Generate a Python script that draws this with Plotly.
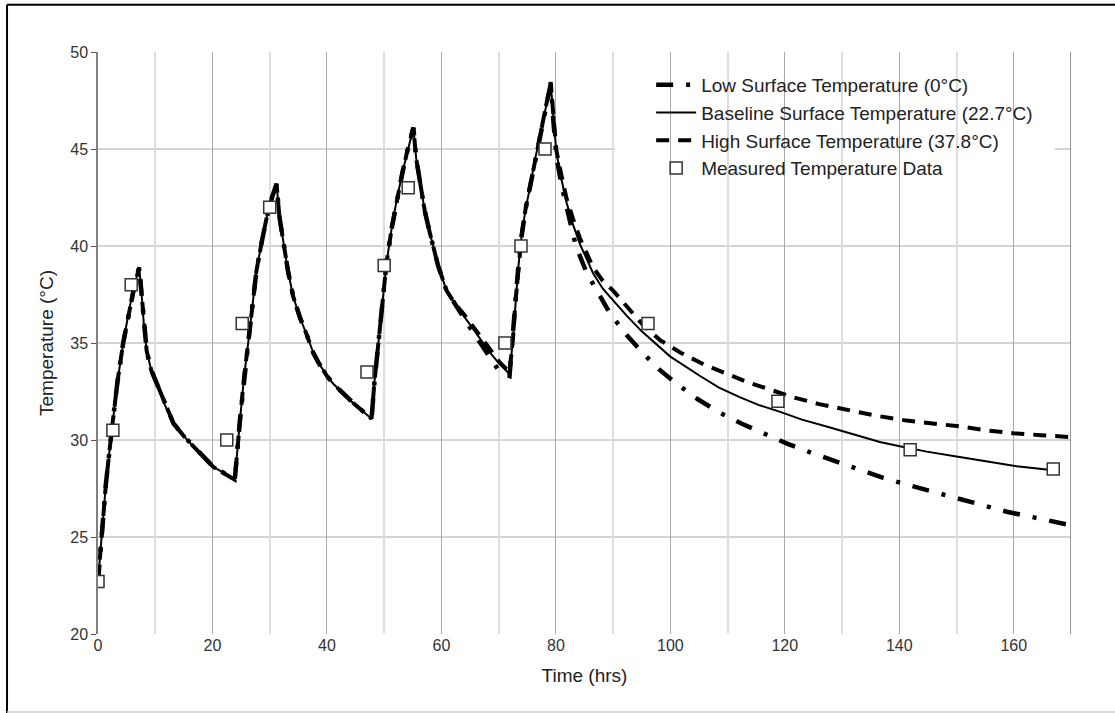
import plotly.graph_objects as go

# ---- model output: the three runs coincide for the first heating cycles ----
t_shared = [0, 0.6, 1.4, 2.4, 3.4, 4.4, 5.5, 6.4, 7.2, 7.6, 8.0, 8.5, 9.3, 10.3,
            11.7, 13.2, 15.0, 16.7, 18.5, 20.2, 22.0, 23.9, 24.8, 25.5, 26.3,
            27.0, 27.7, 28.6, 29.5, 30.4, 31.2, 31.7, 32.4, 33.2, 34.1, 35.3,
            36.5, 37.6, 38.5, 40.0, 41.1, 42.8, 44.6, 46.2, 47.8, 48.3, 49.0,
            49.7, 50.4, 51.3, 52.2, 53.2, 54.2, 55.1, 55.6, 56.3, 57.1, 58.0,
            59.4, 60.9, 62.4]
temp_shared = [22.7, 25.0, 27.8, 30.5, 33.0, 35.0, 36.8, 38.0, 38.9, 37.6, 36.0,
               34.6, 33.6, 32.9, 31.8, 30.85, 30.2, 29.65, 29.1, 28.6, 28.3,
               27.95, 31.0, 33.2, 35.15, 37.0, 38.75, 40.2, 41.5, 42.5, 43.2,
               41.5, 40.1, 38.7, 37.4, 36.3, 35.4, 34.5, 34.0, 33.3, 32.9, 32.4,
               31.9, 31.5, 31.1, 33.0, 35.0, 37.2, 39.1, 40.9, 42.4, 43.8, 45.1,
               46.1, 44.5, 43.2, 41.8, 40.65, 39.0, 37.7, 37.0]

# cycle-four heating, common to all runs
t_rise4 = [63.9, 65.4, 66.8, 68.5, 70.2, 71.9, 72.5, 72.9, 73.4, 74.0, 74.7,
           75.5, 76.3, 77.2, 78.2, 79.1]
temp_rise4_low = [36.2, 35.6, 35.0, 34.2, 33.5, 33.3, 35.2, 37.0, 38.8, 40.5,
                  41.9, 43.05, 44.4, 45.6, 47.1, 48.35]
temp_rise4_base = [36.4, 35.8, 35.2, 34.5, 33.9, 33.4, 35.2, 37.0, 38.8, 40.5,
                   41.9, 43.05, 44.4, 45.6, 47.1, 48.4]
temp_rise4_high = [36.5, 35.9, 35.3, 34.6, 34.0, 33.5, 35.2, 37.0, 38.8, 40.5,
                   41.9, 43.05, 44.4, 45.6, 47.1, 48.45]

# final cool-down, where the surface temperature assumption matters
t_low_tail = [79.6, 80.1, 81.0, 81.9, 83.5, 85.4, 87.5, 89.5, 92.4, 95.3, 98.2,
              101.1, 104.8, 108.7, 112.4, 116.2, 120.5, 125.0, 129.0, 133.1,
              137.2, 141.3, 145.6, 150.0, 154.4, 158.8, 163.7, 168.7, 170.0]
temp_low_tail = [46.3, 44.6, 43.1, 41.9, 40.0, 38.6, 37.5, 36.5, 35.4, 34.45,
                 33.6, 32.9, 32.1, 31.4, 30.85, 30.35, 29.8, 29.3, 28.9, 28.45,
                 28.05, 27.7, 27.35, 27.0, 26.65, 26.3, 26.0, 25.7, 25.6]

t_base_tail = [79.6, 80.1, 81.0, 81.9, 83.0, 84.2, 86.5, 88.2, 90.0, 92.4, 95.0,
               97.0, 100.0, 105.2, 108.5, 112.2, 115.5, 119.2, 123.0, 127.3,
               132.0, 136.6, 140.5, 144.8, 150.0, 155.3, 160.5, 166.5]
temp_base_tail = [46.5, 44.8, 43.4, 42.2, 41.1, 40.1, 38.6, 37.8, 37.2, 36.4,
                  35.6, 35.1, 34.3, 33.3, 32.7, 32.2, 31.8, 31.45, 31.05, 30.7,
                  30.3, 29.9, 29.65, 29.4, 29.15, 28.9, 28.65, 28.45]

t_high_tail = [79.6, 80.1, 81.0, 81.9, 83.0, 84.2, 86.5, 88.2, 90.0, 92.4, 95.0,
               98.2, 101.8, 105.8, 109.5, 113.3, 117.4, 121.5, 126.0, 130.8,
               136.0, 141.3, 146.0, 150.6, 155.2, 159.9, 164.7, 170.0]
temp_high_tail = [46.6, 44.9, 43.6, 42.4, 41.4, 40.4, 38.9, 38.2, 37.7, 36.9,
                  36.0, 35.15, 34.5, 33.9, 33.45, 33.0, 32.6, 32.2, 31.85,
                  31.55, 31.25, 31.0, 30.85, 30.7, 30.5, 30.35, 30.25, 30.15]

# ---- measurements ----
t_measured = [0, 2.6, 5.8, 22.5, 25.2, 30.0, 47.0, 50.0, 54.2, 71.1, 73.9, 78.1,
              96.1, 118.8, 141.9, 166.9]
temp_measured = [22.7, 30.5, 38.0, 30.0, 36.0, 42.0, 33.5, 39.0, 43.0, 35.0,
                 40.0, 45.0, 36.0, 32.0, 29.5, 28.5]

y_grid = [25, 30, 35, 40, 45]

FONT = "Liberation Sans, Arial, sans-serif"

fig = go.Figure()

fig.add_trace(go.Scatter(
    x=t_shared + t_rise4 + t_low_tail,
    y=temp_shared + temp_rise4_low + temp_low_tail,
    mode="lines", name="Low Surface Temperature (0°C)", legendgroup="low",
    line=dict(color="#000000", width=4.5, dash="17px,13px,4px,13px"),
))
fig.add_trace(go.Scatter(
    x=t_shared + t_rise4 + t_base_tail,
    y=temp_shared + temp_rise4_base + temp_base_tail,
    mode="lines", name="Baseline Surface Temperature (22.7°C)", legendgroup="base",
    line=dict(color="#000000", width=2),
))
fig.add_trace(go.Scatter(
    x=t_shared + t_rise4 + t_high_tail,
    y=temp_shared + temp_rise4_high + temp_high_tail,
    mode="lines", name="High Surface Temperature (37.8°C)", legendgroup="high",
    line=dict(color="#000000", width=4, dash="13px,9px"),
))
fig.add_trace(go.Scatter(
    x=t_measured, y=temp_measured,
    mode="markers", name="Measured Temperature Data", legendgroup="meas",
    marker=dict(symbol="square", size=12, color="#ffffff",
                line=dict(color="#333333", width=1.5)),
))

shapes = []
# horizontal grid lines
for v in y_grid:
    shapes.append(dict(type="line", xref="paper", yref="y", x0=0, x1=1, y0=v, y1=v,
                       line=dict(color="#a8a8a8", width=1), layer="below"))
# white panel behind the legend, hiding the grid there
shapes.append(dict(type="rect", xref="paper", yref="paper", x0=0.5314, x1=0.9835,
                   y0=0.772, y1=0.9725, fillcolor="#ffffff", line=dict(width=0),
                   layer="between"))
# right boundary of the plotting region
shapes.append(dict(type="line", xref="x", yref="paper", x0=170, x1=170, y0=0, y1=1,
                   line=dict(color="#707070", width=1.5), layer="below"))
# outer frame of the figure
shapes.append(dict(type="line", xref="paper", yref="paper", x0=-0.0935, x1=-0.0935,
                   y0=-0.14, y1=1.081, line=dict(color="#000000", width=2)))
shapes.append(dict(type="line", xref="paper", yref="paper", x0=-0.0935, x1=1.05,
                   y0=1.081, y1=1.081, line=dict(color="#000000", width=2)))
shapes.append(dict(type="line", xref="paper", yref="paper", x0=-0.0935, x1=1.05,
                   y0=-0.134, y1=-0.134, line=dict(color="#d0d0d0", width=1.5)))

fig.update_layout(
    width=1115, height=713,
    margin=dict(l=98, r=44, t=52, b=79),
    paper_bgcolor="#ffffff", plot_bgcolor="#ffffff",
    font=dict(family=FONT, size=16, color="#222222"),
    showlegend=True,
    legend=dict(x=0.5685, y=0.976, xanchor="left", yanchor="top",
                bgcolor="rgba(0,0,0,0)", borderwidth=0, tracegroupgap=0,
                itemwidth=40,
                font=dict(family=FONT, size=19, color="#222222")),
    shapes=shapes,
    xaxis=dict(range=[0, 170], tick0=0, dtick=20, showgrid=True,
               gridcolor="#a8a8a8", gridwidth=1, zeroline=False, showline=False,
               ticks="", tickfont=dict(family=FONT, size=16, color="#333333"),
               minor=dict(dtick=10, showgrid=True, gridcolor="#dedede", gridwidth=1.5),
               title=dict(text="Time (hrs)", font=dict(family=FONT, size=19, color="#222222"),
                          standoff=15)),
    yaxis=dict(range=[20, 50], tick0=20, dtick=5, showgrid=False, zeroline=False,
               showline=True, linecolor="#808080", linewidth=1.5,
               ticks="outside", ticklen=5, tickcolor="#555555",
               tickfont=dict(family=FONT, size=16, color="#333333"),
               title=dict(text="Temperature (°C)", font=dict(family=FONT, size=19, color="#222222"),
                          standoff=12)),
)

fig.write_html("out.html")
